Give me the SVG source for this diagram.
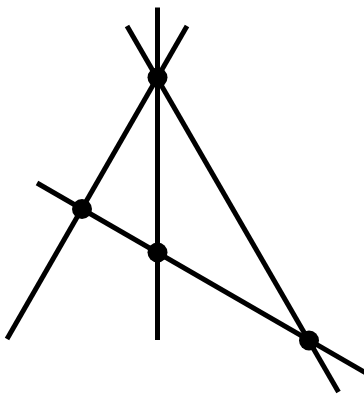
<svg xmlns="http://www.w3.org/2000/svg" width="364" height="394" viewBox="0 0 364 394">
<style>
.l{stroke:#000;stroke-width:5;fill:none}
.p{fill:#000}
</style>
<rect width="364" height="394" fill="#fff"/>
<g id="connectors">
<line class="l" x1="157.5" y1="7.5" x2="157.5" y2="340"/>
<line class="l" x1="7" y1="339" x2="187" y2="26"/>
<line class="l" x1="127" y1="26" x2="338.5" y2="392"/>
<line class="l" x1="37" y1="183" x2="366" y2="373"/>
</g>
<g id="A"><circle class="p" cx="157.5" cy="77.5" r="10"/></g>
<g id="B"><circle class="p" cx="82" cy="209" r="10"/></g>
<g id="C"><circle class="p" cx="157.5" cy="252.5" r="10"/></g>
<g id="D"><circle class="p" cx="309" cy="340.5" r="10"/></g>
</svg>
